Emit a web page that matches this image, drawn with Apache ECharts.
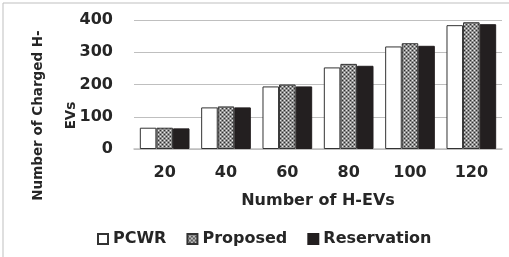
<!DOCTYPE html>
<html>
<head>
<meta charset="utf-8">
<script src="https://cdn.jsdelivr.net/npm/echarts@6/dist/echarts.min.js"></script>
<style>
  html, body { margin: 0; padding: 0; background: #fff; }
  #chart { width: 509px; height: 257px; }
</style>
</head>
<body>
<div id="chart"></div>
<script>
var categories = ['20', '40', '60', '80', '100', '120'];
var pcwr = [66, 129, 194, 253, 318, 384];
var proposed = [66, 132, 200, 264, 328, 393];
var reservation = [64, 129, 194, 258, 320, 387];
var yTicks = [0, 100, 200, 300, 400];

// dotted gray fill for the "Proposed" bars
function dotPattern() {
    var c = document.createElement('canvas');
    c.width = 4; c.height = 4;
    var ctx = c.getContext('2d');
    ctx.fillStyle = '#8f8f8f';
    ctx.fillRect(0, 0, 4, 4);
    ctx.fillStyle = '#e8e8e8';
    ctx.fillRect(0, 0, 1, 1);
    ctx.fillRect(2, 2, 1, 1);
    ctx.fillStyle = '#303030';
    ctx.fillRect(2, 0, 1, 1);
    ctx.fillRect(0, 2, 1, 1);
    return c;
}

var font = 'DejaVu Sans';
var txt = '#262626';

var chart = echarts.init(document.getElementById('chart'));
var option = {
    animation: false,
    textStyle: { fontFamily: font },
    graphic: [{
        type: 'rect',
        shape: { x: 3, y: 3, width: 560, height: 300 },
        style: { fill: 'none', stroke: '#bfbfbf', lineWidth: 1 },
        silent: true
    }],
    grid: {
        left: 134,
        right: 7,
        top: 20,
        bottom: 108,
        containLabel: false,
        outerBoundsMode: 'none'
    },
    legend: {
        left: 92,
        top: 226,
        icon: 'rect',
        itemWidth: 10,
        itemHeight: 10,
        itemGap: 20,
        textStyle: { fontFamily: font, fontWeight: 'bold', fontSize: 16, color: txt },
        data: ['PCWR', 'Proposed', 'Reservation']
    },
    xAxis: {
        type: 'category',
        data: categories,
        name: 'Number of H-EVs',
        nameLocation: 'middle',
        nameGap: 44,
        nameMoveOverlap: false,
        nameTextStyle: { fontFamily: font, fontWeight: 'bold', fontSize: 16, color: txt },
        axisLine: { lineStyle: { color: '#bfbfbf', width: 1.5 } },
        axisTick: { show: false },
        axisLabel: { margin: 16, fontFamily: font, fontWeight: 'bold', fontSize: 16, color: txt }
    },
    yAxis: {
        type: 'value',
        min: yTicks[0],
        max: yTicks[yTicks.length - 1],
        interval: 100,
        name: 'Number of Charged H-\nEVs',
        nameLocation: 'middle',
        nameGap: 46,
        nameMoveOverlap: false,
        nameTextStyle: {
            fontFamily: font, fontWeight: 'bold', fontSize: 13.5, color: txt,
            lineHeight: 33, padding: [0, 62, 0, 0]
        },
        axisLine: { show: false },
        axisTick: { show: false },
        splitLine: { lineStyle: { color: '#bfbfbf', width: 1 } },
        axisLabel: {
            margin: 21, fontFamily: font, fontWeight: 'bold', fontSize: 16, color: txt,
            showMinLabel: true, showMaxLabel: true
        }
    },
    series: [
        {
            name: 'PCWR',
            type: 'bar',
            data: pcwr,
            barGap: '0%',
            barCategoryGap: '19%',
            itemStyle: { color: '#ffffff', borderColor: '#333333', borderWidth: 1 }
        },
        {
            name: 'Proposed',
            type: 'bar',
            data: proposed,
            itemStyle: {
                color: { image: dotPattern(), repeat: 'repeat' },
                borderColor: '#333333',
                borderWidth: 1
            }
        },
        {
            name: 'Reservation',
            type: 'bar',
            data: reservation,
            itemStyle: { color: '#231f20', borderColor: '#231f20', borderWidth: 1 }
        }
    ]
};
chart.setOption(option);
</script>
</body>
</html>
